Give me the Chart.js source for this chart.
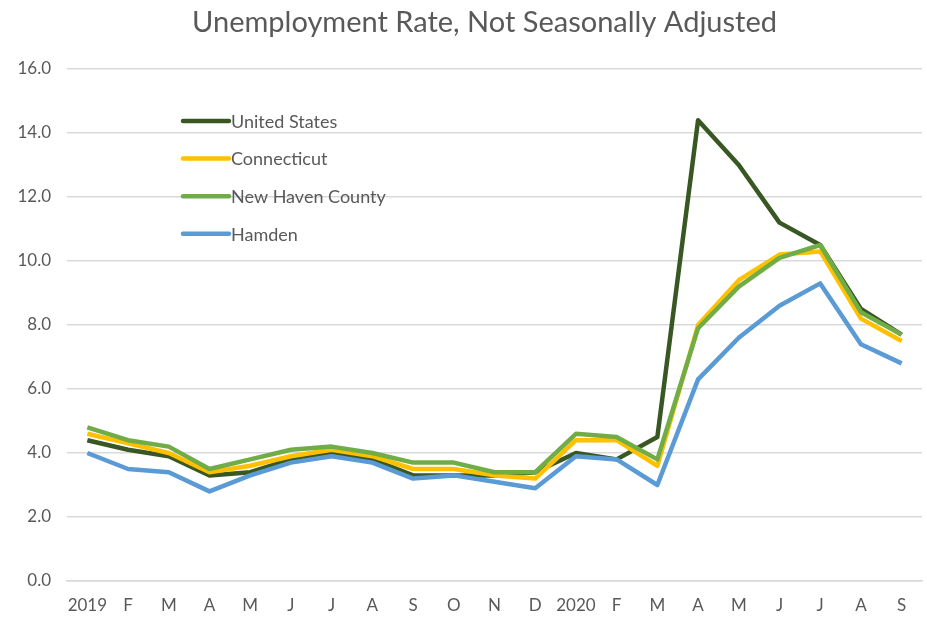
<!DOCTYPE html>
<html>
<head>
<meta charset="utf-8">
<script src="https://cdn.jsdelivr.net/npm/chart.js@4.4.1/dist/chart.umd.min.js"></script>
<style>
  html, body { margin: 0; padding: 0; background: #ffffff; }
  #wrap { width: 927px; height: 617px; }
</style>
</head>
<body>
<div id="wrap"><canvas id="c" width="927" height="617"></canvas></div>
<script>
// Monthly categories, Jan 2019 through Sep 2020
const months = ['2019','F','M','A','M','J','J','A','S','O','N','D','2020','F','M','A','M','J','J','A','S'];

// Unemployment rate (%), not seasonally adjusted
const unitedStates = [4.4,4.1,3.9,3.3,3.4,3.8,4.0,3.8,3.3,3.3,3.3,3.4,4.0,3.8,4.5,14.4,13.0,11.2,10.5,8.5,7.7];
const connecticut  = [4.6,4.3,4.0,3.4,3.6,3.9,4.1,3.9,3.5,3.5,3.3,3.2,4.4,4.4,3.6,8.0,9.4,10.2,10.3,8.2,7.5];
const newHaven     = [4.8,4.4,4.2,3.5,3.8,4.1,4.2,4.0,3.7,3.7,3.4,3.4,4.6,4.5,3.8,7.9,9.2,10.1,10.5,8.4,7.7];
const hamden       = [4.0,3.5,3.4,2.8,3.3,3.7,3.9,3.7,3.2,3.3,3.1,2.9,3.9,3.8,3.0,6.3,7.6,8.6,9.3,7.4,6.8];

const yTicks = [0,2,4,6,8,10,12,14,16];
const chartTitle = 'Unemployment Rate, Not Seasonally Adjusted';

const FONT = 'Lato, "Open Sans", sans-serif';
const TEXT = '#595959';

// Title centred a little right of the canvas middle, over the plot
const titlePlugin = {
  id: 'titlePlugin',
  afterDraw(chart) {
    const ctx = chart.ctx;
    ctx.save();
    ctx.font = '29px ' + FONT;
    ctx.fillStyle = TEXT;
    ctx.textAlign = 'center';
    ctx.textBaseline = 'middle';
    ctx.fillText(chartTitle, chart.width / 2 + 21, 23);
    ctx.restore();
  }
};

// Legend drawn inside the plot area, top-left, listed from the bottom-most line up
const insideLegend = {
  id: 'insideLegend',
  afterDatasetsDraw(chart) {
    const ctx = chart.ctx;
    const x0 = chart.chartArea.left + 116;
    const y0 = chart.chartArea.top + 52;
    const gap = 37.6;
    const items = chart.data.datasets.slice().reverse();
    ctx.save();
    ctx.font = '18px ' + FONT;
    ctx.textBaseline = 'middle';
    ctx.textAlign = 'left';
    items.forEach((ds, i) => {
      const y = y0 + i * gap;
      ctx.strokeStyle = ds.borderColor;
      ctx.lineWidth = 4.5;
      ctx.lineCap = 'round';
      ctx.beginPath();
      ctx.moveTo(x0, y);
      ctx.lineTo(x0 + 46, y);
      ctx.stroke();
      ctx.fillStyle = TEXT;
      ctx.fillText(ds.label, x0 + 48, y + 1);
    });
    ctx.restore();
  }
};

function series(label, data, color) {
  return {
    label, data,
    borderColor: color,
    backgroundColor: color,
    borderWidth: 4.5,
    pointRadius: 0,
    tension: 0,
    fill: false,
    borderJoinStyle: 'round'
  };
}

// First dataset is painted on top
new Chart(document.getElementById('c'), {
  type: 'line',
  data: {
    labels: months,
    datasets: [
      series('Hamden', hamden, '#5B9BD5'),
      series('New Haven County', newHaven, '#70AD47'),
      series('Connecticut', connecticut, '#FFC000'),
      series('United States', unitedStates, '#385723')
    ]
  },
  options: {
    responsive: false,
    animation: false,
    layout: { padding: { left: 0, right: 5, top: 69, bottom: 0 } },
    plugins: {
      legend: { display: false },
      tooltip: { enabled: false },
      title: { display: false }
    },
    scales: {
      x: {
        offset: true,
        grid: { display: false, drawTicks: false },
        border: { display: true, color: '#D9D9D9', width: 1.5 },
        ticks: { color: TEXT, font: { family: FONT, size: 17 }, padding: 14, maxRotation: 0, autoSkip: false },
        afterFit(s) { s.height = 36; }
      },
      y: {
        min: 0, max: 16,
        afterBuildTicks(s) { s.ticks = yTicks.map(v => ({ value: v })); },
        grid: { color: '#D9D9D9', lineWidth: 1.5, drawTicks: false },
        border: { display: false },
        ticks: {
          color: TEXT, font: { family: FONT, size: 17 }, padding: 16,
          callback: v => Number(v).toFixed(1)
        },
        afterFit(s) { s.width = 67; }
      }
    }
  },
  plugins: [titlePlugin, insideLegend]
});
</script>
</body>
</html>
